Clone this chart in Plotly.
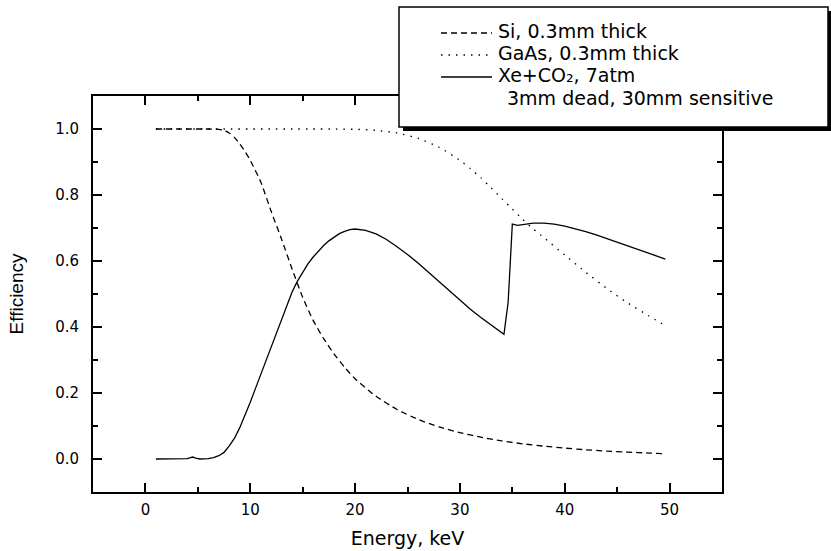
import plotly.graph_objects as go

# ---------------- data ----------------
energy_si = [1, 2, 3, 4, 5, 6, 7, 7.5, 8, 8.5, 9, 9.5, 10, 11, 12, 13, 14, 15, 16, 17, 18, 19, 20,
             22, 24, 26, 28, 30, 32, 34, 36, 38, 40, 42, 44, 46, 48, 49.6]
eff_si = [1.0, 1.0, 1.0, 1.0, 1.0, 1.0, 0.999, 0.996, 0.988, 0.974, 0.955, 0.932, 0.905, 0.84, 0.75,
          0.665, 0.575, 0.49, 0.42, 0.365, 0.318, 0.278, 0.243,
          0.19, 0.15, 0.12, 0.097, 0.08, 0.066, 0.055, 0.046, 0.039, 0.033, 0.028, 0.024, 0.021, 0.018, 0.016]

energy_gaas = [1, 2, 4, 6, 8, 10, 12, 14, 16, 18, 20, 22, 24, 26, 28, 30, 31, 32, 33, 34, 35, 36, 37,
               38, 40, 42, 44, 46, 48, 49.6]
eff_gaas = [1.0, 1.0, 1.0, 1.0, 1.0, 1.0, 1.0, 1.0, 1.0, 1.0, 0.999, 0.996, 0.988, 0.972, 0.945, 0.905,
            0.88, 0.852, 0.821, 0.789, 0.757, 0.726, 0.697, 0.671, 0.618, 0.566, 0.517, 0.473, 0.434, 0.404]

energy_xe = [1, 2, 3, 4, 4.3, 4.5, 4.8, 5.2, 6, 6.5, 7, 7.5, 8, 8.5, 9, 9.5, 10, 10.5, 11, 11.5, 12,
             12.5, 13, 13.5, 14, 14.5, 15, 15.5, 16, 16.5, 17, 17.5, 18, 18.5, 19, 19.5, 20, 20.5, 21,
             22, 23, 24, 25, 26, 27, 28, 29, 30, 31, 32, 33, 34, 34.2, 34.6,
             35.0, 35.5, 36, 36.5, 37, 38, 39, 40, 41, 42, 43, 44, 45, 46, 47, 48, 49, 49.6]
eff_xe = [0, 0, 0, 0.001, 0.004, 0.006, 0.003, 0, 0.001, 0.004, 0.01, 0.02, 0.04, 0.063, 0.095, 0.132,
          0.172, 0.214, 0.256, 0.299, 0.342, 0.385, 0.428, 0.469, 0.507, 0.539, 0.567, 0.591, 0.612,
          0.631, 0.647, 0.661, 0.673, 0.683, 0.690, 0.695, 0.697, 0.696, 0.693,
          0.682, 0.665, 0.643, 0.62, 0.594, 0.566, 0.537, 0.508, 0.48, 0.454, 0.429, 0.405, 0.383,
          0.378, 0.475, 0.712, 0.708, 0.710, 0.713, 0.715, 0.715, 0.712, 0.706, 0.698, 0.689, 0.679,
          0.668, 0.657, 0.646, 0.635, 0.624, 0.613, 0.606]

x_ticks = [0, 10, 20, 30, 40, 50]
x_minor_ticks = [5, 15, 25, 35, 45]
y_ticks = [0.0, 0.2, 0.4, 0.6, 0.8, 1.0]
y_minor_ticks = [0.1, 0.3, 0.5, 0.7, 0.9]

series_names = ["Si, 0.3mm thick", "GaAs, 0.3mm thick", "Xe+CO\u2082, 7atm"]
legend_extra = "3mm dead, 30mm sensitive"

# ---------------- layout constants ----------------
W, H = 831, 551
ML, MR, MT, MB = 93, 109, 96, 59
PW, PH = W - ML - MR, H - MT - MB
X_RANGE = [-5, 55]
Y_RANGE = [-0.1, 1.1]

def px(xp):
    return (xp - ML) / PW

def py(yp):
    return (H - MB - yp) / PH

SI_DASH = "6px,4px"
GAAS_DASH = "1.5px,6px"
LW = 1.3
TXT_FONT = "DejaVu Sans"

fig = go.Figure()
fig.add_trace(go.Scatter(x=energy_si, y=eff_si, mode="lines", name=series_names[0],
                         line=dict(color="black", width=LW, dash=SI_DASH, shape="spline", smoothing=0.5)))
fig.add_trace(go.Scatter(x=energy_gaas, y=eff_gaas, mode="lines", name=series_names[1],
                         line=dict(color="black", width=LW, dash=GAAS_DASH, shape="spline", smoothing=0.5)))
fig.add_trace(go.Scatter(x=energy_xe, y=eff_xe, mode="lines", name=series_names[2],
                         line=dict(color="black", width=LW)))

# empty helper traces so that the tick-only overlay axes are drawn
for k in (2, 3, 4, 5):
    fig.add_trace(go.Scatter(x=[], y=[], xaxis=f"x{k}", yaxis=f"y{k}", mode="lines",
                             showlegend=False, hoverinfo="skip"))

# main axes: lines, labels, titles (their own ticks are transparent spacers)
fig.update_layout(
    xaxis=dict(
        range=X_RANGE, tickvals=x_ticks,
        showline=True, linecolor="black", linewidth=2, mirror=True,
        showgrid=False, zeroline=False,
        ticks="outside", ticklen=3, tickcolor="rgba(0,0,0,0)",
        tickfont=dict(family=TXT_FONT, size=15, color="black"),
        title=dict(text="Energy, keV", font=dict(family=TXT_FONT, size=19, color="black"), standoff=14),
        automargin=False,
    ),
    yaxis=dict(
        range=Y_RANGE, tickvals=y_ticks, tickformat=".1f",
        showline=True, linecolor="black", linewidth=2, mirror=True,
        showgrid=False, zeroline=False,
        ticks="outside", ticklen=9, tickcolor="rgba(0,0,0,0)",
        tickfont=dict(family=TXT_FONT, size=15, color="black"),
        title=dict(text="Efficiency", font=dict(family="Liberation Sans", size=19, color="black"), standoff=26),
        automargin=False,
    ),
)

def tick_axis(rng, vals, side, over, anchor, length, width):
    return dict(range=rng, tickvals=vals, overlaying=over, side=side, anchor=anchor,
                showline=False, showgrid=False, zeroline=False, showticklabels=False,
                ticks="inside", ticklen=length, tickwidth=width, tickcolor="black")

fig.update_layout(
    xaxis2=tick_axis(X_RANGE, x_ticks, "bottom", "x", "y", 9, 2),
    xaxis3=tick_axis(X_RANGE, x_ticks, "top", "x", "y", 9, 2),
    xaxis4=tick_axis(X_RANGE, x_minor_ticks, "bottom", "x", "y", 5, 1.5),
    xaxis5=tick_axis(X_RANGE, x_minor_ticks, "top", "x", "y", 5, 1.5),
    yaxis2=tick_axis(Y_RANGE, y_ticks, "left", "y", "x", 9, 2),
    yaxis3=tick_axis(Y_RANGE, y_ticks, "right", "y", "x", 9, 2),
    yaxis4=tick_axis(Y_RANGE, y_minor_ticks, "left", "y", "x", 5, 1.5),
    yaxis5=tick_axis(Y_RANGE, y_minor_ticks, "right", "y", "x", 5, 1.5),
)

# ---------------- legend box (manual) ----------------
bx0, by0, bx1, by1 = 399, 7, 828, 127
shapes = [
    dict(type="rect", xref="paper", yref="paper", layer="above",
         x0=px(bx0 + 4), x1=px(bx1 + 4), y0=py(by1 + 4), y1=py(by0 + 4),
         fillcolor="black", line=dict(width=0)),
    dict(type="rect", xref="paper", yref="paper", layer="above",
         x0=px(bx0), x1=px(bx1), y0=py(by1), y1=py(by0),
         fillcolor="white", line=dict(color="black", width=1.5)),
]
key_rows = [33, 55, 77]
key_dash = [SI_DASH, GAAS_DASH, "solid"]
for yr, d in zip(key_rows, key_dash):
    shapes.append(dict(type="line", xref="paper", yref="paper", layer="above",
                       x0=px(441), x1=px(492), y0=py(yr), y1=py(yr),
                       line=dict(color="black", width=LW, dash=d)))

text_rows = [31, 53, 75]
annotations = []
for yr, name in zip(text_rows, series_names):
    annotations.append(dict(xref="paper", yref="paper", x=px(496), y=py(yr), xanchor="left",
                            yanchor="middle", text=name, showarrow=False,
                            font=dict(family=TXT_FONT, size=19, color="black")))
annotations.append(dict(xref="paper", yref="paper", x=px(505), y=py(98), xanchor="left",
                        yanchor="middle", text=legend_extra, showarrow=False,
                        font=dict(family=TXT_FONT, size=19, color="black")))

fig.update_layout(
    width=W, height=H, autosize=False,
    margin=dict(l=ML, r=MR, t=MT, b=MB, pad=0),
    paper_bgcolor="white", plot_bgcolor="white",
    showlegend=False,
    shapes=shapes, annotations=annotations,
    font=dict(family=TXT_FONT, color="black"),
)

fig.write_html("out.html")
